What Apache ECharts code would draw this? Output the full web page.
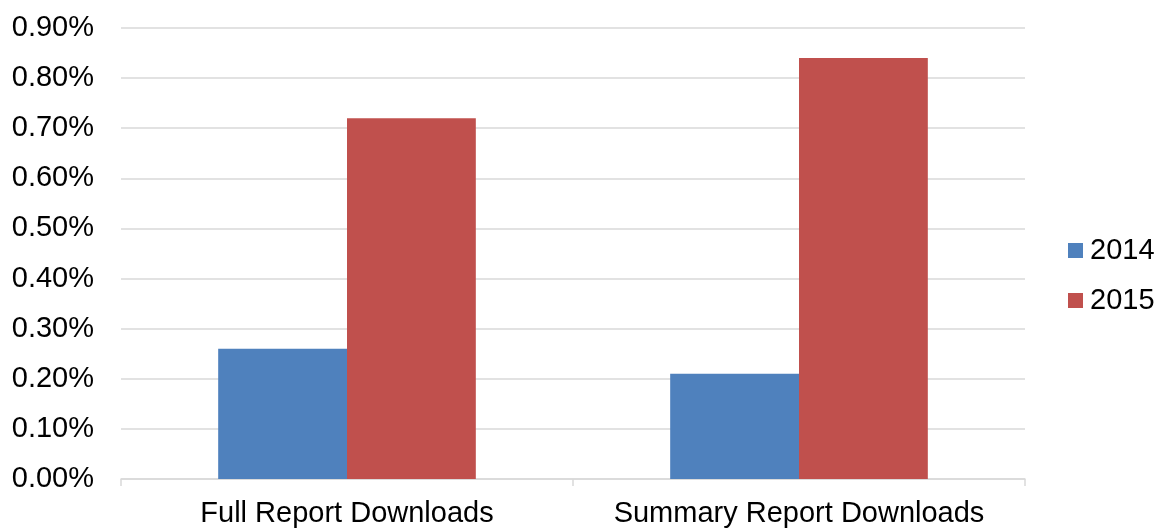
<!DOCTYPE html>
<html>
<head>
<meta charset="utf-8">
<script src="https://cdn.jsdelivr.net/npm/echarts@6/dist/echarts.min.js"></script>
<style>
html,body{margin:0;padding:0;background:#fff;}
#chart{width:1158px;height:528px;}
</style>
</head>
<body>
<div id="chart"></div>
<script>
const categories = ['Full Report Downloads', 'Summary Report Downloads'];
const seriesNames = ['2014', '2015'];
const values2014 = [0.26, 0.21];
const values2015 = [0.72, 0.84];

const FONT = '"Liberation Sans", Arial, sans-serif';
const chart = echarts.init(document.getElementById('chart'), null, {renderer: 'canvas'});
chart.setOption({
  animation: false,
  backgroundColor: '#ffffff',
  grid: {left: 121, right: 133, top: 28, bottom: 49, containLabel: false},
  legend: {
    orient: 'vertical',
    left: 1068,
    top: 236,
    padding: 0,
    itemWidth: 15,
    itemHeight: 15,
    itemGap: 21,
    icon: 'rect',
    data: seriesNames,
    textStyle: {fontFamily: FONT, fontSize: 29, color: '#000', lineHeight: 29, padding: [0, 0, 0, 2]}
  },
  xAxis: {
    type: 'category',
    data: categories,
    axisLine: {show: true, lineStyle: {color: '#d9d9d9', width: 1.5}},
    axisTick: {show: true, length: 7, lineStyle: {color: '#d9d9d9', width: 1.5}},
    axisLabel: {fontFamily: FONT, fontSize: 29, color: '#000', margin: 20, interval: 0, hideOverlap: false},
    splitLine: {show: false}
  },
  yAxis: {
    type: 'value',
    min: 0,
    max: 0.9,
    interval: 0.1,
    axisLine: {show: false},
    axisTick: {show: false},
    axisLabel: {fontFamily: FONT, fontSize: 29, color: '#000', margin: 27,
      formatter: v => v.toFixed(2) + '%'},
    splitLine: {lineStyle: {color: '#d9d9d9', width: 1.5}}
  },
  series: [
    {name: seriesNames[0], type: 'bar', data: values2014, barGap: '0%', barCategoryGap: '43%',
      itemStyle: {color: '#4f81bd'}},
    {name: seriesNames[1], type: 'bar', data: values2015, barGap: '0%', barCategoryGap: '43%',
      itemStyle: {color: '#c0504d'}}
  ]
});
</script>
</body>
</html>
